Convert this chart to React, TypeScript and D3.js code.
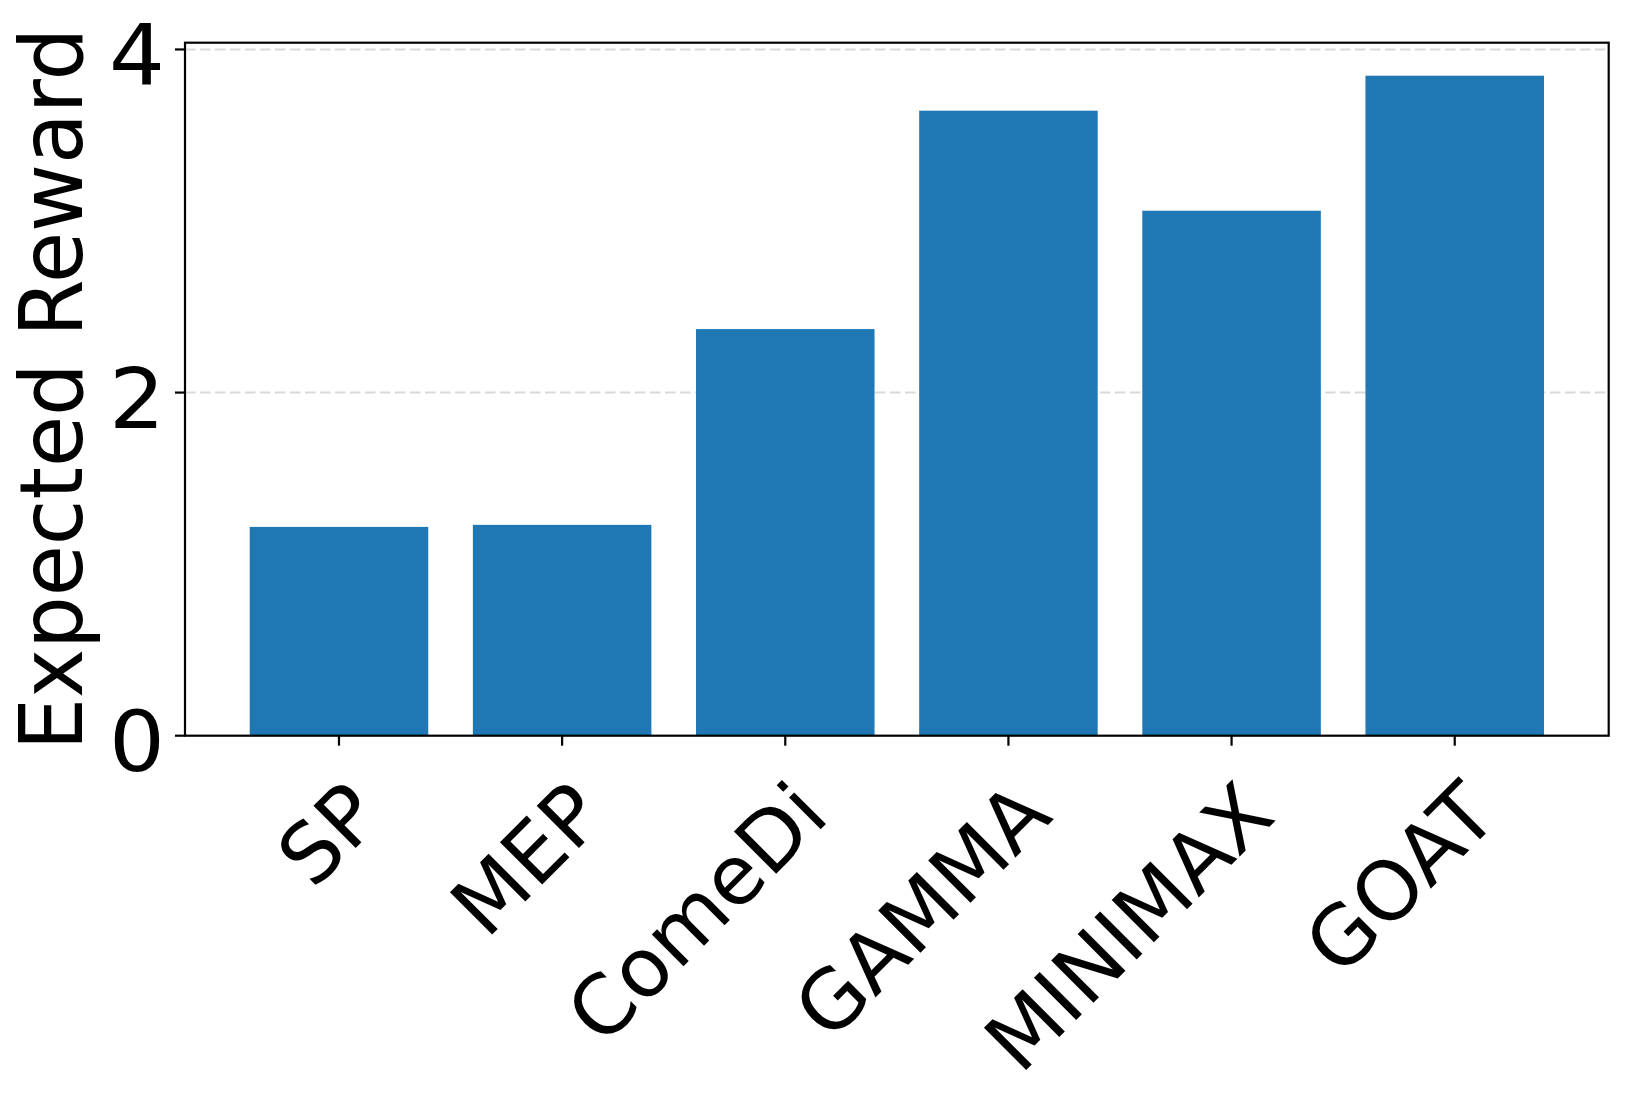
import React from "react";
import * as d3 from "d3";

const categories = ["SP", "MEP", "ComeDi", "GAMMA", "MINIMAX", "GOAT"];
const values = [1.217, 1.229, 2.37, 3.643, 3.06, 3.847];
const yTicks = [0, 2, 4];
const yLabel = "Expected Reward";

const W = 1629;
const H = 1106;
const M = { left: 185, right: 1629 - 1608.7, top: 42.7, bottom: 1106 - 735.7 };
const FS = 83;
const XFS = 82;
const SX = 1.06;
const XSX = 1.0;
const FONT = "'DejaVu Sans', sans-serif";

export default function App() {
  const x = d3.scaleLinear().domain([-0.69, categories.length - 1 + 0.69]).range([M.left, W - M.right]);
  const ymax = d3.max(values)! * 1.05;
  const y = d3.scaleLinear().domain([0, ymax]).range([H - M.bottom, M.top]);
  const bw = x(0.8) - x(0);
  const x0 = M.left, x1 = W - M.right, y0 = H - M.bottom, y1 = M.top;
  const tickLen = 10;
  return (
    <svg width={W} height={H} style={{ display: "block", position: "absolute", left: 0, top: 0, background: "#fff" }} fontFamily={FONT}>
      {yTicks.filter((t) => t > 0).map((t) => (
        <line key={"g" + t} x1={x0} x2={x1} y1={y(t)} y2={y(t)} stroke="#d9d9d9" strokeWidth={2} strokeDasharray="10.5,4.5" />
      ))}
      {values.map((v, i) => (
        <rect key={categories[i]} x={x(i) - bw / 2} y={y(v)} width={bw} height={y(0) - y(v)} fill="#1f77b4" />
      ))}
      <rect x={x0} y={y1} width={x1 - x0} height={y0 - y1} fill="none" stroke="#000" strokeWidth={2.2} />
      {yTicks.map((t) => (
        <g key={"y" + t}>
          <line x1={x0 - tickLen} x2={x0} y1={y(t)} y2={y(t)} stroke="#000" strokeWidth={2.2} />
          <text transform={`translate(${x0 - tickLen - 10},${y(t) + 35}) scale(${SX},1)`} textAnchor="end" fontSize={FS}>{t}</text>
        </g>
      ))}
      {categories.map((c, i) => {
        const tx = x(i);
        const ex = tx + 46;
        const ey = y0 + 83;
        return (
          <g key={"x" + c}>
            <line x1={tx} x2={tx} y1={y0} y2={y0 + tickLen} stroke="#000" strokeWidth={2.2} />
            <text transform={`translate(${ex},${ey}) scale(${XSX},1) rotate(-45)`} textAnchor="end" fontSize={XFS}>{c}</text>
          </g>
        );
      })}
      <text transform={`translate(82,${(y0 + y1) / 2}) scale(${SX},1) rotate(-90)`} textAnchor="middle" fontSize={FS}>{yLabel}</text>
    </svg>
  );
}
